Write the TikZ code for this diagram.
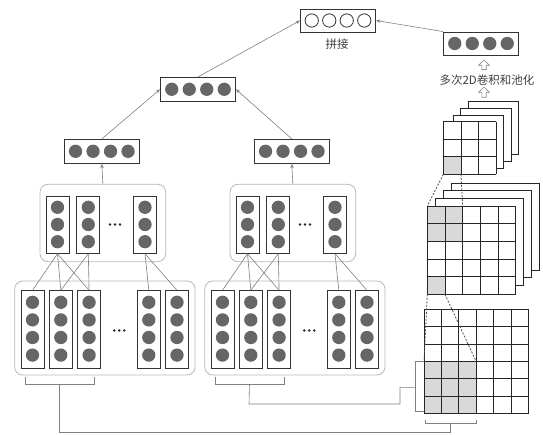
\documentclass[tikz,border=0pt]{standalone}
\usepackage{fontspec}
\newfontfamily\cjk{Noto Sans CJK SC}
\usetikzlibrary{arrows.meta}
\definecolor{dotc}{HTML}{666666}
\definecolor{cellc}{HTML}{D9D9D9}
\tikzset{
 dot/.style={circle, fill=dotc, minimum size=13.3pt, inner sep=0pt},
 hdot/.style={circle, draw=black!80, line width=0.8pt, fill=white, minimum size=13.3pt, inner sep=0pt},
 colbox/.style={draw=black!80, line width=0.8pt, fill=white, minimum width=23pt, inner sep=0pt},
 vecbox/.style={draw=black!80, line width=0.8pt, fill=white, minimum width=75pt, minimum height=24pt, inner sep=0pt},
 cont/.style={draw=black!28, rounded corners=8pt, line width=0.8pt, inner sep=0pt},
 conn/.style={draw=black!50, line width=0.6pt},
 arr/.style={conn, -{Stealth[length=4.5pt,width=3.5pt]}},
 sdot/.style={circle, fill=black!85, minimum size=2.8pt, inner sep=0pt},
 sheet/.style={draw=black!85, fill=white, line width=0.8pt},
 gridl/.style={draw=black!85, line width=0.7pt},
 dashl/.style={draw=black!70, line width=0.8pt, dash pattern=on 2pt off 1.5pt},
 harrow/.style={draw=black!45, fill=white, line width=0.6pt},
 lbl/.style={font=\cjk\fontsize{11.5}{13}\selectfont, text=black!75, inner sep=0pt}
}
\begin{document}
\begin{tikzpicture}[x=1pt,y=-1pt]
\useasboundingbox (0,0) rectangle (543,435);

% ---------- two text modules ----------
\foreach \g/\s in {1/0,2/190} {
  % containers
  \node[cont, minimum width=180.3pt, minimum height=94pt] (lc\g) at (104.85+\s,328) {};
  \node[cont, minimum width=125.7pt, minimum height=77.4pt] (uc\g) at (102.85+\s,223) {};
  % lower columns
  \foreach \i/\cx in {1/32.5,2/60.8,3/89.1,4/148.8,5/177} {
    \node[colbox, minimum height=77.6pt] (l\g-\i) at (\cx+\s,329.5) {};
    \foreach \j in {0,...,3}
      \node[dot] (ld\g-\i-\j) at (\cx+\s,302.3+17.6*\j) {};
  }
  % upper columns
  \foreach \i/\cx in {1/57.5,2/88.3,3/145} {
    \node[colbox, minimum height=57.3pt] (u\g-\i) at (\cx+\s,224.7) {};
    \foreach \j in {0,...,2}
      \node[dot] (ud\g-\i-\j) at (\cx+\s,207.3+17.2*\j) {};
  }
  % ellipsis dots
  \foreach \k in {-1,0,1} {
    \node[sdot] (le\g\k) at (119.3+\s+5*\k,330.5) {};
    \node[sdot] (ue\g\k) at (115+\s+5*\k,224.5) {};
  }
  % connections upper -> lower
  \draw[conn] (u\g-1.south) -- (l\g-1.north);
  \draw[conn] (u\g-1.south) -- (l\g-2.north);
  \draw[conn] (u\g-1.south) -- (l\g-3.north);
  \draw[conn] (u\g-2.south) -- (l\g-2.north);
  \draw[conn] (u\g-2.south) -- (l\g-3.north);
  \draw[conn] (u\g-3.south) -- (l\g-4.north);
  \draw[conn] (u\g-3.south) -- (l\g-5.north);
  % vector box
  \node[vecbox] (b\g) at (101.8+\s,151.3) {};
  \foreach \k/\o in {0/-26.25,1/-8.75,2/8.75,3/26.25}
    \node[dot] (bd\g-\k) at (101.8+\s+\o,151.3) {};
  \draw[arr] (uc\g.north) -- (b\g.south);
  % bracket under first three lower columns
  \coordinate (br\g) at (59.5+\s,384);
  \draw[conn] (25+\s,376.7) -- (25+\s,384) -- (94+\s,384) -- (94+\s,376.7);
}

% ---------- top vectors ----------
\node[vecbox] (mid) at (198,89.3) {};
\foreach \k/\o in {0/-26.25,1/-8.75,2/8.75,3/26.25}
  \node[dot] (md\k) at (198+\o,89.3) {};
\node[vecbox, minimum height=23pt] (concat) at (338,20.5) {};
\foreach \k/\o in {0/-26.25,1/-8.75,2/8.75,3/26.25}
  \node[hdot] (cd\k) at (338+\o,20.5) {};
\node[lbl] (concatlbl) at (337,44) {拼接};
\node[vecbox, minimum height=23pt] (rbox) at (481,43.5) {};
\foreach \k/\o in {0/-26.25,1/-8.75,2/8.75,3/26.25}
  \node[dot] (rd\k) at (481+\o,43.5) {};

\draw[arr] (b1.north) -- (mid.west);
\draw[arr] (b2.north) -- (mid.east);
\draw[arr] (mid.north) -- (concat.west);
\draw[arr] (rbox.north west) -- (concat.east);

% hollow arrows and label
\draw[harrow] (484,60) -- (489.5,65.3) -- (486.2,65.3) -- (486.2,69.5) -- (481.8,69.5) -- (481.8,65.3) -- (478.5,65.3) -- cycle;
\node[lbl] (convtxt) at (487,80) {多次2D卷积和池化};
\draw[harrow] (484,87) -- (489.5,92.3) -- (486.2,92.3) -- (486.2,97.3) -- (481.8,97.3) -- (481.8,92.3) -- (478.5,92.3) -- cycle;

% ---------- top feature-map stack (3x3) ----------
\foreach \l/\t in {468/101.7, 460.7/108.3, 453.3/115}
  \draw[sheet] (\l,\t) rectangle ++(50.3,53);
\begin{scope}[shift={(443.3,121.7)}]
  \fill[white] (0,0) rectangle (52.7,52.7);
  \fill[cellc] (0,35.13) rectangle (17.57,52.7);
  \foreach \k in {0,...,3} {
    \draw[gridl] (17.57*\k,0) -- (17.57*\k,52.7);
    \draw[gridl] (0,17.57*\k) -- (52.7,17.57*\k);
  }
\end{scope}

% ---------- middle feature-map stack (5x5) ----------
\foreach \l/\t in {451.7/183.3, 443.3/190, 435.7/198.3}
  \draw[sheet] (\l,\t) rectangle ++(87.6,87);
\begin{scope}[shift={(427.3,206)}]
  \fill[white] (0,0) rectangle (88.4,88.4);
  \fill[cellc] (0,0) rectangle (35.36,35.36);
  \fill[cellc] (0,70.72) rectangle (17.68,88.4);
  \foreach \k in {0,...,5} {
    \draw[gridl] (17.68*\k,0) -- (17.68*\k,88.4);
    \draw[gridl] (0,17.68*\k) -- (88.4,17.68*\k);
  }
\end{scope}

% ---------- bottom input grid (6x6) ----------
\begin{scope}[shift={(424,309.3)}]
  \fill[cellc] (0,52.14) rectangle (52.14,104.28);
  \foreach \k in {0,...,6} {
    \draw[gridl] (17.38*\k,0) -- (17.38*\k,104.28);
    \draw[gridl] (0,17.38*\k) -- (104.28,17.38*\k);
  }
\end{scope}

% dashed receptive-field lines
\coordinate (t1) at (443.3,174.4);
\coordinate (t2) at (460.9,174.4);
\coordinate (m1) at (427.3,206);
\coordinate (m2) at (462.7,206);
\coordinate (m3) at (427.3,294.4);
\coordinate (m4) at (445,294.4);
\coordinate (g1) at (424,361.4);
\coordinate (g2) at (476.1,361.4);
\draw[dashl] (t1) -- (m1);
\draw[dashl] (t2) -- (m2);
\draw[dashl] (m3) -- (g1);
\draw[dashl] (m4) -- (g2);

% brackets on the input grid
\coordinate (gl) at (415,387.3);
\coordinate (gb) at (450.7,423.3);
\draw[conn] (424,361.7) -- (415,361.7) -- (415,411.7) -- (424,411.7);
\draw[conn] (425,419.5) -- (425,423.3) -- (476,423.3) -- (476,419.5);

% links from the module brackets to the grid brackets
\draw[conn] (br2) -- (249,404) -- (400,404) -- (400,387.3) -- (gl);
\draw[conn] (br1) -- (59.5,432.3) -- (450.7,432.3) -- (gb);
\end{tikzpicture}
\end{document}
